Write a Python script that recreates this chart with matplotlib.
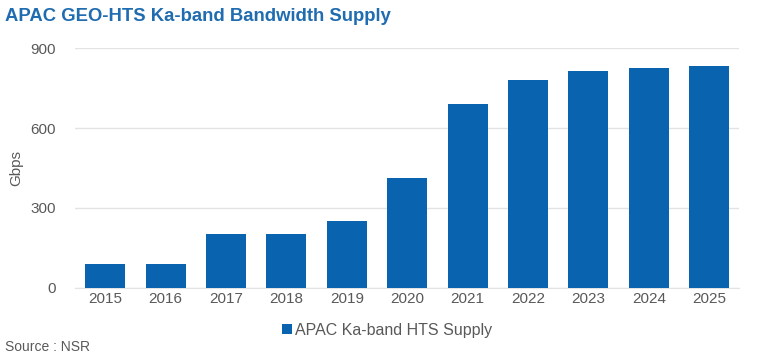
import matplotlib.pyplot as plt

years = ["2015", "2016", "2017", "2018", "2019", "2020", "2021", "2022", "2023", "2024", "2025"]
supply = [90, 90, 202, 202, 250, 412, 692, 780, 814, 827, 832]

plt.rcParams['font.family'] = ['Liberation Sans', 'DejaVu Sans']

fig = plt.figure(figsize=(7.61, 3.59), dpi=100)
ax = fig.add_axes([0.0986, 0.198, 0.873, 0.668])

x = range(len(years))
ax.bar(x, supply, width=0.66, color="#0A63AE", label="APAC Ka-band HTS Supply", zorder=3)

ax.set_xlim(-0.5, len(years) - 0.5)
ax.set_ylim(0, 900)
ax.set_yticks([0, 300, 600, 900])
ax.set_xticks(list(x))
ax.set_xticklabels(years)
ax.tick_params(axis="both", length=0, colors="#595959", labelsize=11)
ax.tick_params(axis="y", pad=14)
ax.tick_params(axis="x", pad=3)
ax.grid(axis="y", color="#e3e3e3", linewidth=1, zorder=0)
for s in ["top", "right", "left"]:
    ax.spines[s].set_visible(False)
ax.spines["bottom"].set_color("#e3e3e3")

ax.set_ylabel("Gbps", color="#595959", fontsize=11, labelpad=5)

fig.text(0.007, 0.955, "APAC GEO-HTS Ka-band Bandwidth Supply", fontsize=13.3,
         fontweight="bold", color="#1F6CB0", va="center", ha="left")

ax.legend(loc="upper center", bbox_to_anchor=(0.47, -0.085), frameon=False, fontsize=11.5,
          handlelength=0.6, handleheight=0.6, handletextpad=0.2, labelcolor="#595959")

fig.text(0.007, 0.033, "Source : NSR", fontsize=10, color="#595959", va="center", ha="left")

fig.savefig("out.png", dpi=100, facecolor="white")
